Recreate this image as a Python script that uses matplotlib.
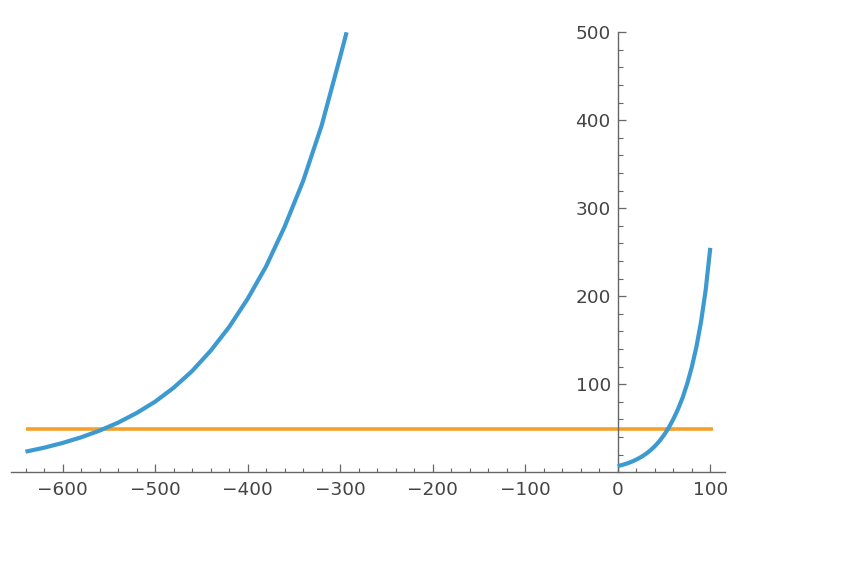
import matplotlib
matplotlib.use("Agg")
import matplotlib.pyplot as plt
from matplotlib.ticker import MultipleLocator, FixedLocator

# Left branch of the blue curve (x, y)
left_x = [-640, -620, -600, -580, -560, -540, -520, -500, -480, -460, -440,
          -420, -400, -380, -360, -340, -320, -300, -293]
left_y = [23.4, 27.9, 33.3, 39.7, 47.3, 56.4, 67.3, 80.2, 96.0, 115.0, 138.0,
          165.0, 197.0, 234.0, 279.0, 331.0, 394.0, 472.0, 500.0]

# Right branch of the blue curve
right_x = [0, 5, 10, 15, 20, 25, 30, 35, 40, 45, 50, 55, 60, 65, 70, 75, 80,
           85, 90, 95, 100]
right_y = [7.0, 8.4, 10.0, 12.0, 14.4, 17.2, 20.6, 24.7, 29.5, 35.4, 42.3,
           50.5, 60.2, 71.5, 84.5, 100.5, 119.5, 142.5, 171.0, 207.0, 255.0]

# Horizontal orange line
hline_x = [-640, 103]
hline_y = [49, 49]

x_major = [-600, -500, -400, -300, -200, -100, 0, 100]
x_labels = ["\u2212600", "\u2212500", "\u2212400", "\u2212300", "\u2212200", "\u2212100", "0", "100"]
y_major = [100, 200, 300, 400, 500]
y_labels = ["100", "200", "300", "400", "500"]

blue = "#3d9ad1"
orange = "#f4a02a"
axis_col = "#666666"
text_col = "#444444"

fig = plt.figure(figsize=(8.64, 5.88), dpi=100)
ax = fig.add_axes([0.0127, 0.1968, 0.8261, 0.7483])

ax.plot(left_x, left_y, color=blue, lw=3.0, solid_capstyle="butt",
        solid_joinstyle="round", zorder=3)
ax.plot(right_x, right_y, color=blue, lw=3.0, solid_capstyle="butt",
        solid_joinstyle="round", zorder=3)
ax.plot(hline_x, hline_y, color=orange, lw=2.6, solid_capstyle="butt", zorder=2)

ax.set_xlim(-655.7, 115.6)
ax.set_ylim(0, 500)

for s in ["top", "right"]:
    ax.spines[s].set_visible(False)
ax.spines["left"].set_position(("data", 0))
ax.spines["bottom"].set_position(("data", 0))
for s in ["left", "bottom"]:
    ax.spines[s].set_color(axis_col)
    ax.spines[s].set_linewidth(1.0)

ax.xaxis.set_major_locator(FixedLocator(x_major))
ax.set_xticklabels(x_labels)
ax.xaxis.set_minor_locator(MultipleLocator(20))
ax.yaxis.set_major_locator(FixedLocator(y_major))
ax.set_yticklabels(y_labels)
ax.yaxis.set_minor_locator(MultipleLocator(20))

ax.tick_params(axis="x", which="major", direction="in", length=5.5, width=0.9,
               color=axis_col, labelcolor=text_col, labelsize=13.3, pad=6)
ax.tick_params(axis="x", which="minor", direction="in", length=2.7, width=0.8, color=axis_col)
ax.tick_params(axis="y", which="major", direction="in", length=6, width=0.9,
               color=axis_col, labelcolor=text_col, labelsize=13.3, pad=5)
ax.tick_params(axis="y", which="minor", direction="in", length=3.8, width=0.8, color=axis_col)

ax.yaxis.set_ticks_position("left")
ax.xaxis.set_ticks_position("bottom")

fig.savefig("out.png", dpi=100)
